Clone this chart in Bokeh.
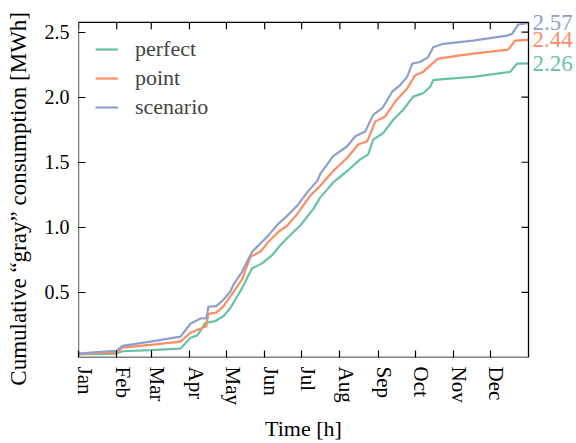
import math
from bokeh.plotting import figure
from bokeh.models import (Range1d, FixedTicker, LinearAxis, Legend, LegendItem,
                          PrintfTickFormatter, BoxAnnotation)
from bokeh.core.properties import value
from bokeh.embed import file_html
from bokeh.resources import INLINE

# ---- data (day of year -> cumulative MWh) ----
months = ["Jan", "Feb", "Mar", "Apr", "May", "Jun", "Jul", "Aug", "Sep", "Oct", "Nov", "Dec"]
month_start_day = [0, 31, 59, 90, 120, 151, 181, 212, 243, 273, 304, 334]
y_ticks = [0.5, 1.0, 1.5, 2.0, 2.5]
x_title = "Time [h]"
y_title = "Cumulative \u201cgray\u201d consumption [MWh]"

perfect_day = [0, 17.8, 30.8, 35.7, 58.3, 82.7, 90.8, 96.4, 102.9, 111.0, 117.5, 123.2, 132.7, 140.8,
               148.9, 157.0, 163.7, 170.2, 179.9, 190.4, 196.1, 206.6, 218.0, 228.5, 235.0, 239.0,
               247.2, 255.3, 263.4, 271.5, 279.6, 285.3, 287.7, 295.8, 320.1, 350.1, 355.8, 365]
perfect = [0.025, 0.025, 0.03, 0.048, 0.056, 0.068, 0.152, 0.17, 0.266, 0.28, 0.317, 0.38, 0.533, 0.685,
           0.723, 0.786, 0.862, 0.926, 1.014, 1.14, 1.23, 1.345, 1.433, 1.522, 1.56, 1.674,
           1.725, 1.826, 1.903, 2.004, 2.03, 2.08, 2.131, 2.139, 2.156, 2.194, 2.258, 2.26]

point_day = [0, 17.8, 30.8, 35.7, 58.3, 82.7, 90.8, 103.7, 105.3, 111.8, 117.5, 123.2, 132.7, 139.4,
             147.5, 154.0, 162.0, 169.4, 177.5, 188.0, 196.1, 206.6, 218.0, 226.9, 234.2, 240.7,
             248.8, 256.9, 266.6, 273.1, 279.6, 286.9, 291.7, 309.6, 320.1, 348.5, 354.1, 365]
point = [0.025, 0.033, 0.038, 0.076, 0.097, 0.122, 0.19, 0.24, 0.335, 0.345, 0.393, 0.47, 0.60, 0.774,
         0.812, 0.888, 0.964, 1.014, 1.103, 1.243, 1.319, 1.433, 1.535, 1.636, 1.661, 1.814,
         1.852, 1.966, 2.067, 2.169, 2.194, 2.258, 2.296, 2.321, 2.334, 2.365, 2.435, 2.44]

scenario_day = [0, 17.8, 30.8, 35.7, 58.3, 82.7, 90.8, 98.9, 103.7, 105.3, 111.8, 117.5, 123.2, 125.6,
                132.7, 140.8, 147.5, 154.0, 162.0, 169.4, 177.5, 186.4, 193.7, 196.1, 206.6, 218.0,
                224.5, 232.6, 239.0, 246.4, 254.5, 260.9, 266.6, 270.7, 277.1, 283.6, 287.7, 295.8,
                320.1, 347.6, 351.7, 356.6, 365]
scenario = [0.03, 0.043, 0.051, 0.089, 0.122, 0.16, 0.259, 0.30, 0.30, 0.39, 0.395, 0.444, 0.507, 0.558,
            0.66, 0.812, 0.875, 0.938, 1.027, 1.09, 1.167, 1.28, 1.357, 1.41, 1.547, 1.623,
            1.70, 1.737, 1.864, 1.915, 2.042, 2.093, 2.156, 2.258, 2.27, 2.308, 2.384, 2.41,
            2.435, 2.473, 2.486, 2.557, 2.57]

series_names = ["perfect", "point", "scenario"]
series_days = [perfect_day, point_day, scenario_day]
series_vals = [perfect, point, scenario]
colors = ["#66c2a5", "#fc8d62", "#8da0cb"]

# ---- layout / style constants ----
FONT = "Liberation Serif"
HOURS_PER_DAY = 24
YEAR_H = 365 * HOURS_PER_DAY
Y_MAX = 2.575                       # top of the drawn axes box
W, H = 576, 443
BOX_LEFT, BOX_RIGHT, BOX_TOP, BOX_BOTTOM = 78, 528, 22, 360   # axes box in pixels
Y_TITLE_CENTER_PX = 200             # vertical centre of the y-axis title (pixels from top)
LABEL_SHIFT_DAYS = 5                # month names sit slightly right of their tick
TICK_LEN = 7

month_hours = [d * HOURS_PER_DAY for d in month_start_day]
label_hours = [(d + LABEL_SHIFT_DAYS) * HOURS_PER_DAY for d in month_start_day]

# the plotting frame is a bit larger than the axes box, so the end labels
# to the right of the box are not clipped; the box itself is drawn explicitly
px_per_hour = (BOX_RIGHT - BOX_LEFT) / YEAR_H
px_per_unit = (BOX_BOTTOM - BOX_TOP) / Y_MAX
x_end = (W - BOX_LEFT) / px_per_hour
y_end = BOX_BOTTOM / px_per_unit
x_title_pos = YEAR_H / 2
y_title_pos = (BOX_BOTTOM - Y_TITLE_CENTER_PX) / px_per_unit

p = figure(width=W, height=H, output_backend="svg", toolbar_location=None,
           x_range=Range1d(0, x_end), y_range=Range1d(0, y_end),
           min_border_left=BOX_LEFT, min_border_right=0, min_border_top=0,
           min_border_bottom=H - BOX_BOTTOM)
p.xgrid.visible = False
p.ygrid.visible = False
p.outline_line_color = None
p.background_fill_color = "white"
p.border_fill_color = "white"

items = []
for name, days, vals, color in zip(series_names, series_days, series_vals, colors):
    r = p.line([d * HOURS_PER_DAY for d in days], vals, line_color=color, line_width=2.2)
    items.append(LegendItem(label=name, renderers=[r]))

# axes box
p.add_layout(BoxAnnotation(left=0, right=YEAR_H, bottom=0, top=Y_MAX, fill_color=None,
                           line_color="black", line_alpha=1.0, line_width=1.3, editable=False))
# mirrored ticks on the top and right edges of the box
p.ray(x=month_hours, y=[Y_MAX] * len(month_hours), length=TICK_LEN, length_units="screen",
      angle=-math.pi / 2, line_color="black", line_width=1.2)
p.ray(x=[YEAR_H] * len(y_ticks), y=y_ticks, length=TICK_LEN, length_units="screen",
      angle=math.pi, line_color="black", line_width=1.2)

# final values at the right end of each line
p.text(x=[YEAR_H] * 3, y=[v[-1] for v in series_vals],
       text=[f"{v[-1]:.2f}" for v in series_vals], text_color=colors,
       text_baseline="middle", text_align="left", x_offset=4,
       text_font=value(FONT), text_font_size="23px")

# legend position: (x, y) of its bottom-left corner, from the frame's bottom-left
legend = Legend(items=items, location=(17, 237), border_line_color=None,
                background_fill_alpha=0, label_text_font=FONT, label_text_font_size="22px",
                glyph_width=23, glyph_height=20, label_standoff=17, spacing=3,
                padding=0, margin=0, label_height=20)
p.add_layout(legend)


def style_axis(ax, marks=True):
    ax.axis_line_color = None
    ax.major_tick_in = TICK_LEN
    ax.major_tick_out = 0
    ax.major_tick_line_color = "black" if marks else None
    ax.major_tick_line_width = 1.2
    ax.minor_tick_line_color = None
    ax.major_label_text_font = FONT
    ax.major_label_text_color = "black"


# bottom: tick marks at month starts
xa = p.xaxis[0]
xa.ticker = FixedTicker(ticks=month_hours)
style_axis(xa)
xa.major_label_overrides = {t: "" for t in month_hours}
xa.major_label_standoff = 0

# bottom: month names (no marks)
xl = LinearAxis(ticker=FixedTicker(ticks=label_hours))
style_axis(xl, marks=False)
xl.major_label_overrides = {h: m for h, m in zip(label_hours, months)}
xl.major_label_orientation = "vertical"
xl.major_label_text_font_size = "21px"
xl.major_label_standoff = 9
p.add_layout(xl, "below")

# bottom: axis title, centred under the axes box
xt = LinearAxis(ticker=FixedTicker(ticks=[x_title_pos]))
style_axis(xt, marks=False)
xt.major_label_overrides = {x_title_pos: x_title}
xt.major_label_text_font_size = "22px"
xt.major_label_standoff = 8
p.add_layout(xt, "below")

# left: tick values
ya = p.yaxis[0]
ya.ticker = FixedTicker(ticks=y_ticks)
ya.formatter = PrintfTickFormatter(format="%.1f")
style_axis(ya)
ya.major_label_text_font_size = "20px"
ya.major_label_standoff = 9

# left: axis title, centred beside the axes box
yt = LinearAxis(ticker=FixedTicker(ticks=[y_title_pos]))
style_axis(yt, marks=False)
yt.major_label_overrides = {y_title_pos: y_title}
yt.major_label_orientation = "vertical"
yt.major_label_text_font_size = "23px"
yt.major_label_standoff = 10
p.add_layout(yt, "left")

open("out.html", "w").write(file_html(p, INLINE))
